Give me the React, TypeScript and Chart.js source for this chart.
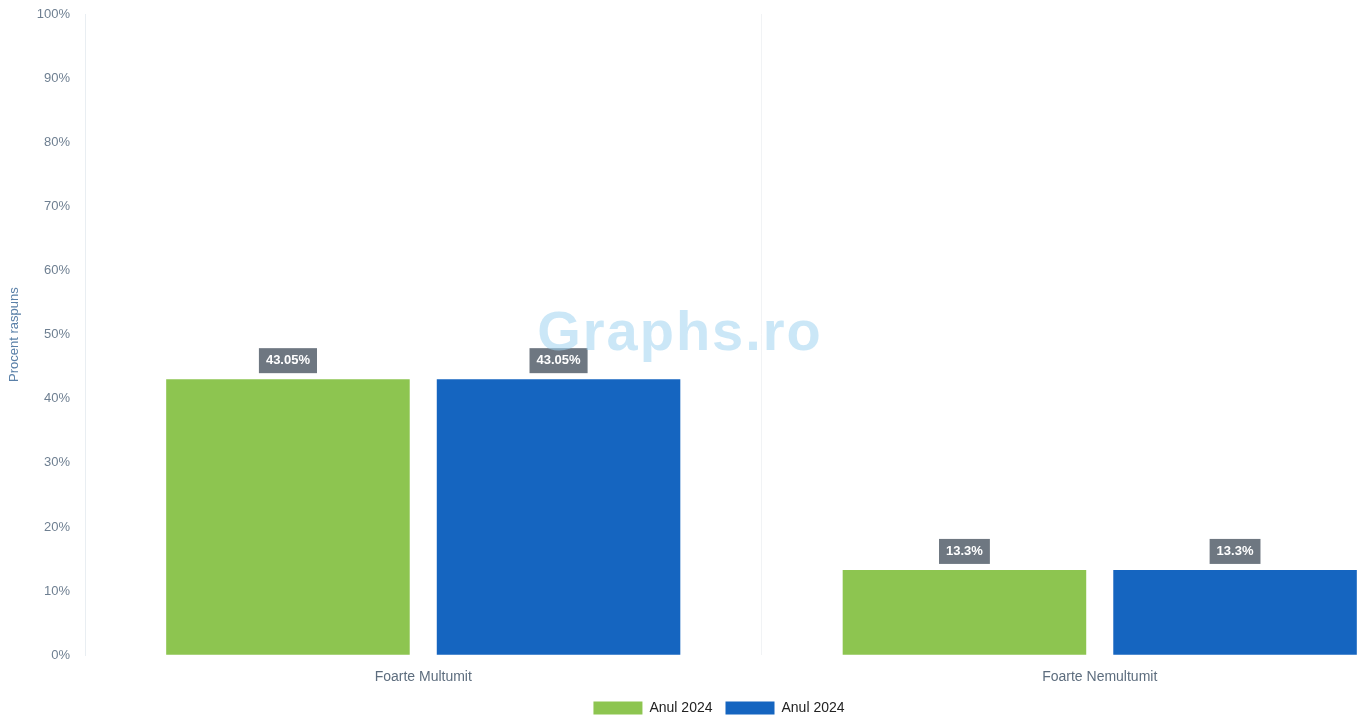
import React, { useEffect, useRef } from "react";
import { Chart, registerables } from "chart.js";

Chart.register(...registerables);

const categories = ["Foarte Multumit", "Foarte Nemultumit"];
const seriesLabels = ["Anul 2024", "Anul 2024"];
const seriesA = [43.05, 13.3];
const seriesB = [43.05, 13.3];
const yTicks = [0, 10, 20, 30, 40, 50, 60, 70, 80, 90, 100];
const yTitle = "Procent raspuns";
const watermark = "Graphs.ro";

const valueLabelPlugin = {
  id: "valueLabels",
  afterDatasetsDraw(chart: any) {
    const ctx = chart.ctx;
    ctx.save();
    ctx.font = "bold 13px Arial, 'Liberation Sans', sans-serif";
    ctx.textAlign = "center";
    ctx.textBaseline = "middle";
    chart.data.datasets.forEach((ds: any, di: number) => {
      const meta = chart.getDatasetMeta(di);
      meta.data.forEach((bar: any, i: number) => {
        const text = `${ds.data[i]}%`;
        const w = ctx.measureText(text).width + 14;
        const h = 25;
        const x = bar.x;
        const bottom = bar.y - 6;
        ctx.fillStyle = "#6e7781";
        ctx.fillRect(x - w / 2, bottom - h, w, h);
        ctx.fillStyle = "#ffffff";
        ctx.fillText(text, x, bottom - h / 2);
      });
    });
    ctx.restore();
  },
};

const watermarkPlugin = {
  id: "watermark",
  afterDatasetsDraw(chart: any) {
    const ctx = chart.ctx;
    ctx.save();
    ctx.font = "bold 56px Arial, 'Liberation Sans', sans-serif";
    try {
      (ctx as any).letterSpacing = "2px";
    } catch (e) {}
    ctx.fillStyle = "rgba(160, 212, 240, 0.55)";
    ctx.textAlign = "center";
    ctx.textBaseline = "alphabetic";
    ctx.fillText(watermark, 680, 350);
    ctx.restore();
  },
};

export default function App() {
  const ref = useRef<HTMLCanvasElement>(null);

  useEffect(() => {
    if (!ref.current) return;
    const chart = new Chart(ref.current, {
      type: "bar",
      data: {
        labels: categories,
        datasets: [
          {
            label: seriesLabels[0],
            data: seriesA,
            backgroundColor: "#8dc550",
            borderWidth: 0,
          },
          {
            label: seriesLabels[1],
            data: seriesB,
            backgroundColor: "#1565c0",
            borderWidth: 0,
          },
        ],
      },
      options: {
        responsive: true,
        maintainAspectRatio: false,
        animation: false,
        layout: { padding: { top: 14, right: 2, left: 0, bottom: -7 } },
        plugins: {
          legend: {
            position: "bottom",
            labels: {
              boxWidth: 49,
              boxHeight: 13,
              padding: 13,
              color: "#222222",
              font: { size: 14, family: "Arial, 'Liberation Sans', sans-serif" },
            },
          },
          tooltip: { enabled: false },
        },
        scales: {
          x: {
            afterFit: (scale: any) => {
              scale.height = scale.height - 12;
            },
            grid: {
              display: true,
              offset: true,
              color: "#f1f3f5",
              drawTicks: false,
            },
            border: { display: false },
            ticks: {
              padding: 14,
              color: "#5d6d7e",
              font: { size: 14, family: "Arial, 'Liberation Sans', sans-serif" },
            },
          },
          y: {
            min: 0,
            max: 100,
            afterBuildTicks: (scale: any) => {
              scale.ticks = yTicks.map((v) => ({ value: v }));
            },
            afterFit: (scale: any) => {
              scale.width = 85;
              scale.paddingTop = 0;
              scale.paddingBottom = 0;
            },
            grid: { display: true, color: "rgba(0,0,0,0)", drawTicks: false },
            border: { display: true, color: "#e9eef2" },
            ticks: {
              padding: 15,
              color: "#6e7f91",
              font: { size: 13, family: "Arial, 'Liberation Sans', sans-serif" },
              callback: (v: any) => `${v}%`,
            },
            title: {
              display: true,
              text: yTitle,
              color: "#5a80a8",
              padding: { top: 7, bottom: 4 },
              font: { size: 13, family: "Arial, 'Liberation Sans', sans-serif" },
            },
          },
        },
      },
      plugins: [valueLabelPlugin, watermarkPlugin],
    });
    return () => chart.destroy();
  }, []);

  return (
    <div
      style={{
        position: "fixed",
        left: 0,
        top: 0,
        width: 1364,
        height: 718,
        overflow: "hidden",
        background: "#ffffff",
      }}
    >
      <div style={{ position: "relative", width: 1440, height: 718 }}>
        <canvas ref={ref} />
      </div>
    </div>
  );
}
